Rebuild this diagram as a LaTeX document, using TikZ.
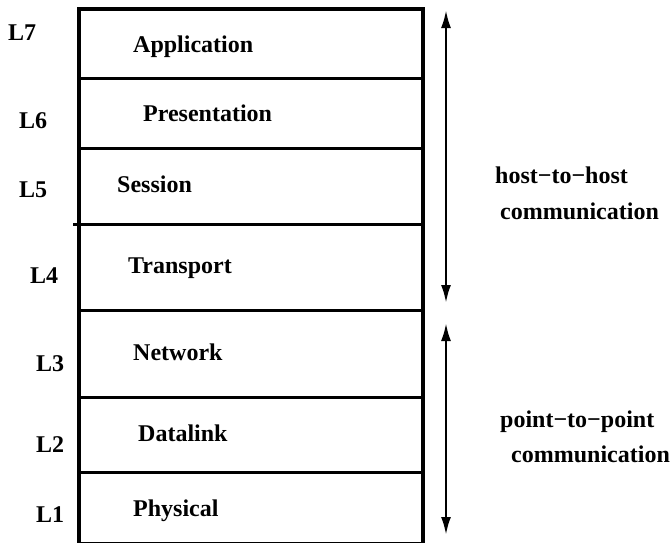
\documentclass[tikz,border=0pt]{standalone}
\usepackage{fontspec}
\setmainfont{Liberation Serif}
\usetikzlibrary{positioning}
\usetikzlibrary{arrows.meta}

\tikzset{
  layer/.style={draw, line width=3.5pt, minimum width=344pt, inner sep=0, outer sep=0},
  lname/.style={anchor=base west, inner sep=0, font=\bfseries\fontsize{24}{28}\selectfont},
  span/.style={line width=2.5pt, {Latex[length=18pt,width=10pt]}-{Latex[length=18pt,width=10pt]}}
}

\begin{document}
\begin{tikzpicture}[x=1pt,y=-1pt]
    \useasboundingbox (0,0) rectangle (672,542);
    % Place layers
    \node [layer, minimum height=69.3pt, anchor=north west] (app) at (79,9) {};
    \node [layer, minimum height=70pt, below=0pt of app] (pres) {};
    \node [layer, minimum height=76pt, below=0pt of pres] (sess) {};
    \node [layer, minimum height=86.4pt, below=0pt of sess] (trans) {};
    \node [layer, minimum height=87pt, below=0pt of trans] (net) {};
    \node [layer, minimum height=74.6pt, below=0pt of net] (dl) {};
    \node [layer, minimum height=71pt, below=0pt of dl] (phys) {};
    \draw [line width=3.5pt] (sess.south west) -- ++(-6,0);

    % Layer names
    \node [lname] (appname) at (133,52) {Application};
    \node [lname] (presname) at (143,121) {Presentation};
    \node [lname] (sessname) at (117,192) {Session};
    \node [lname] (transname) at (128,273) {Transport};
    \node [lname] (netname) at (133,360) {Network};
    \node [lname] (dlname) at (138,441) {Datalink};
    \node [lname] (physname) at (133,516) {Physical};

    % Layer numbers
    \node [lname] (l7) at (8,40) {L7};
    \node [lname] (l6) at (19,128) {L6};
    \node [lname] (l5) at (19,197) {L5};
    \node [lname] (l4) at (30,283) {L4};
    \node [lname] (l3) at (36,371) {L3};
    \node [lname] (l2) at (36,452) {L2};
    \node [lname] (l1) at (36,522) {L1};

    % Spans
    \coordinate (hosttop) at (446,10);
    \coordinate (hostbot) at (446,303);
    \coordinate (ptptop) at (446,323);
    \coordinate (ptpbot) at (446,535);
    \draw [span] (hosttop) -- (hostbot);
    \draw [span] (ptptop) -- (ptpbot);
    \node [lname] (host) at (495,183) {host−to−host};
    \node [lname] (hostcomm) at (500,219) {communication};
    \node [lname] (ptp) at (500,427) {point−to−point};
    \node [lname] (ptpcomm) at (511,462) {communication};
\end{tikzpicture}
\end{document}
